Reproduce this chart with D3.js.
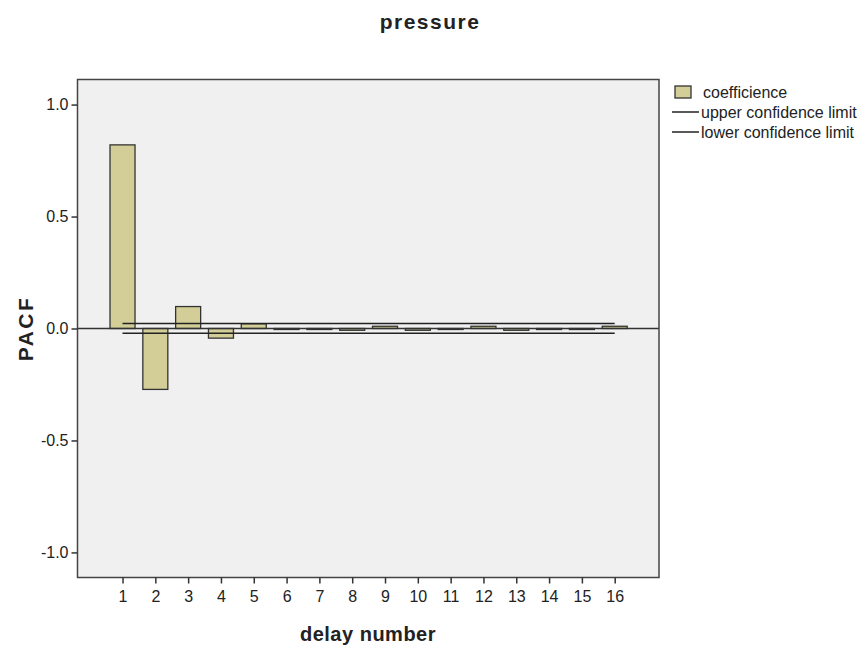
<!DOCTYPE html>
<html>
<head>
<meta charset="utf-8">
<script src="https://cdn.jsdelivr.net/npm/d3@7"></script>
<style>
  body { margin: 0; background: #fff; }
  text { font-family: "Liberation Sans", Arial, sans-serif; fill: #222; }
</style>
</head>
<body>
<div id="chart"></div>
<script>
var lags = [1, 2, 3, 4, 5, 6, 7, 8, 9, 10, 11, 12, 13, 14, 15, 16];
var pacf = [0.82, -0.272, 0.098, -0.043, 0.021, -0.003, -0.003, -0.008, 0.01, -0.008, -0.003, 0.01, -0.008, -0.003, -0.003, 0.01];
var upperLimit = [0.022, 0.022, 0.022, 0.022, 0.022, 0.022, 0.022, 0.022, 0.022, 0.022, 0.022, 0.022, 0.022, 0.022, 0.022, 0.022];
var lowerLimit = [-0.021, -0.021, -0.021, -0.021, -0.021, -0.021, -0.021, -0.021, -0.021, -0.021, -0.021, -0.021, -0.021, -0.021, -0.021, -0.021];
var yTicks = [-1.0, -0.5, 0.0, 0.5, 1.0];
var legendLabels = ["coefficience", "upper confidence limit", "lower confidence limit"];

var W = 859, H = 646;
var margin = {top: 79.5, right: 200, bottom: 68.5, left: 77.5};
var width = 659 - margin.left;
var height = 577.5 - margin.top;

var svg = d3.select("#chart").append("svg")
  .attr("width", W)
  .attr("height", H);

var g = svg.append("g")
  .attr("transform", "translate(" + margin.left + "," + margin.top + ")");

var x = d3.scaleLinear()
  .domain([-0.372, 17.35])
  .range([0, width]);

var y = d3.scaleLinear()
  .domain([-1.112, 1.112])
  .range([height, 0]);

var barW = 25;

// plot background
g.append("rect")
  .attr("width", width)
  .attr("height", height)
  .style("fill", "#f0f0f0");

// bars
g.selectAll(".bar")
  .data(lags)
  .enter().append("rect")
  .attr("class", "bar")
  .attr("x", (d, i) => x(d) - barW / 2)
  .attr("y", (d, i) => y(Math.max(0, pacf[i])))
  .attr("width", barW)
  .attr("height", (d, i) => Math.max(1, Math.abs(y(pacf[i]) - y(0))))
  .style("fill", "#d3ce97")
  .style("stroke", "#333")
  .style("stroke-width", 1.3);

// zero line
g.append("line")
  .attr("x1", 0).attr("x2", width)
  .attr("y1", y(0)).attr("y2", y(0))
  .style("stroke", "#333")
  .style("stroke-width", 1.5);

// confidence limits
var line = d3.line().x(d => x(d[0])).y(d => y(d[1]));
[upperLimit, lowerLimit].forEach(function(arr) {
  g.append("path")
    .attr("d", line(lags.map((l, i) => [l, arr[i]])))
    .style("fill", "none")
    .style("stroke", "#222")
    .style("stroke-width", 1.5);
});

// border
g.append("rect")
  .attr("width", width)
  .attr("height", height)
  .style("fill", "none")
  .style("stroke", "#444")
  .style("stroke-width", 1.5);

// axes
var fmtY = d => d3.format(".1f")(d).replace("\u2212", "-");
var yAxis = g.append("g")
  .call(d3.axisLeft(y).tickValues(yTicks).tickFormat(fmtY).tickSize(6).tickPadding(3));
var xAxis = g.append("g")
  .attr("transform", "translate(0," + height + ")")
  .call(d3.axisBottom(x).tickValues(lags).tickFormat(d3.format("d")).tickSize(6).tickPadding(7));

[yAxis, xAxis].forEach(function(ax) {
  ax.select(".domain").remove();
  ax.selectAll(".tick line").style("stroke", "#333").style("stroke-width", 1.5);
  ax.selectAll(".tick text")
    .style("font-family", "'Liberation Sans', Arial, sans-serif")
    .style("font-size", "16px")
    .style("fill", "#222");
});

// title
svg.append("text")
  .attr("x", 430)
  .attr("y", 29)
  .attr("text-anchor", "middle")
  .style("font-size", "21px")
  .style("font-weight", "bold")
  .style("letter-spacing", "1.5px")
  .text("pressure");

// axis labels
svg.append("text")
  .attr("x", 368)
  .attr("y", 641)
  .attr("text-anchor", "middle")
  .style("font-size", "20px")
  .style("font-weight", "bold")
  .style("letter-spacing", "0.5px")
  .text("delay number");

svg.append("text")
  .attr("transform", "translate(33," + (margin.top + height / 2) + ") rotate(-90)")
  .attr("text-anchor", "middle")
  .style("font-size", "21px")
  .style("font-weight", "bold")
  .style("letter-spacing", "2.5px")
  .text("PACF");

// legend
var lg = svg.append("g").attr("transform", "translate(672,92)");
lg.append("rect")
  .attr("x", 3).attr("y", -6)
  .attr("width", 16).attr("height", 12)
  .style("fill", "#d3ce97")
  .style("stroke", "#333")
  .style("stroke-width", 1.3);
legendLabels.forEach(function(lbl, i) {
  var yy = i * 20;
  if (i > 0) {
    lg.append("line")
      .attr("x1", 0).attr("x2", 27)
      .attr("y1", yy).attr("y2", yy)
      .style("stroke", "#222")
      .style("stroke-width", 1.5);
  }
  lg.append("text")
    .attr("x", i > 0 ? 29 : 31)
    .attr("y", yy)
    .attr("dy", "0.35em")
    .style("font-size", "16px")
    .text(lbl);
});
</script>
</body>
</html>
